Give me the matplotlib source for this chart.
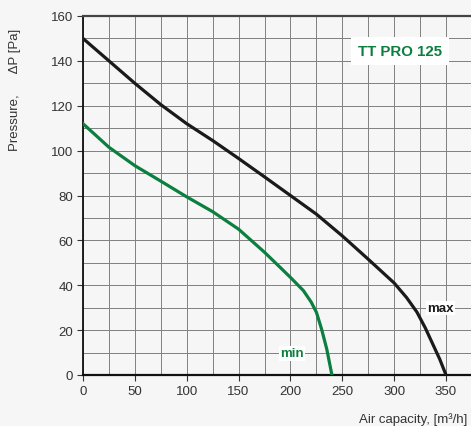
"""Fan curve: TT PRO 125, pressure vs. air capacity (max / min speed)."""

import matplotlib
matplotlib.use("Agg")
import matplotlib.pyplot as plt
from matplotlib.ticker import MultipleLocator

plt.rcParams["font.family"] = ["Liberation Sans", "DejaVu Sans"]

# Data
max_flow = [0, 25, 50, 75, 100, 125, 150, 175, 200, 225, 250, 275, 300, 312, 322, 330, 337, 344, 350]
max_pressure = [150, 140, 130, 120.5, 112, 104.5, 96.5, 88.3, 80, 71.7, 62, 51.6, 41, 34.5, 28, 21, 14, 7, 0]

min_flow = [0, 25, 50, 75, 100, 125, 150, 175, 190, 200, 212.5, 220, 225, 230, 235, 240]
min_pressure = [112, 101.5, 93.3, 86.4, 79.4, 72.8, 65, 54.7, 48, 43.5, 37.6, 32.5, 28, 20.5, 11.6, 0]

title = "TT PRO 125"
x_ticks = [0, 50, 100, 150, 200, 250, 300, 350]
y_ticks = [0, 20, 40, 60, 80, 100, 120, 140, 160]

BG = "#f6f6f6"
GREEN = "#0b7f3f"
TEXT = "#333333"

fig = plt.figure(figsize=(4.71, 4.27), dpi=100, facecolor=BG)
ax = fig.add_axes([83 / 471, 51 / 427, 1 - 83 / 471 + 0.002, 359 / 427])
ax.set_facecolor(BG)

ax.set_xlim(0, 375)
ax.set_ylim(0, 160)
ax.xaxis.set_minor_locator(MultipleLocator(25))
ax.yaxis.set_minor_locator(MultipleLocator(10))
ax.set_xticks(x_ticks)
ax.set_yticks(y_ticks)
ax.grid(which="both", color="#808080", lw=0.7)
ax.set_axisbelow(True)

ax.plot(max_flow, max_pressure, color="#1a1a1a", lw=2.3, solid_joinstyle="round", zorder=3)
ax.plot(min_flow, min_pressure, color=GREEN, lw=2.3, solid_joinstyle="round", zorder=3)

ax.text(305.5, 144.4, title, color=GREEN, fontsize=10.8, fontweight="bold",
        ha="center", va="center", zorder=4,
        bbox=dict(boxstyle="square,pad=0.45", facecolor="white", edgecolor="none"))
ax.text(344.3, 29.9, "max", color="#1a1a1a", fontsize=9.5, fontweight="bold",
        ha="center", va="center", zorder=4,
        bbox=dict(boxstyle="square,pad=0.1", facecolor="white", edgecolor="none"))
ax.text(201.5, 9.6, "min", color=GREEN, fontsize=9.5, fontweight="bold",
        ha="center", va="center", zorder=4,
        bbox=dict(boxstyle="square,pad=0.1", facecolor="white", edgecolor="none"))

ax.spines["right"].set_visible(False)
ax.spines["top"].set_color("#444444")
ax.spines["top"].set_linewidth(1.6)
ax.spines["left"].set_color("#111111")
ax.spines["left"].set_linewidth(1.3)
ax.spines["bottom"].set_color("#111111")
ax.spines["bottom"].set_linewidth(1.6)

ax.tick_params(which="major", length=4, width=0.8, color="#333333",
               labelsize=9.5, labelcolor=TEXT, pad=3)
ax.tick_params(which="minor", length=0)

fig.text(15 / 471, 1 - 90 / 427, "Pressure,      \u0394P [Pa]", rotation=90,
         ha="center", va="center", fontsize=9.5, color=TEXT)
fig.text(467 / 471, 1 - 420 / 427, "Air capacity, [m\u00b3/h]",
         ha="right", va="center", fontsize=9.5, color=TEXT)

fig.savefig("out.png", dpi=100, facecolor=BG)
